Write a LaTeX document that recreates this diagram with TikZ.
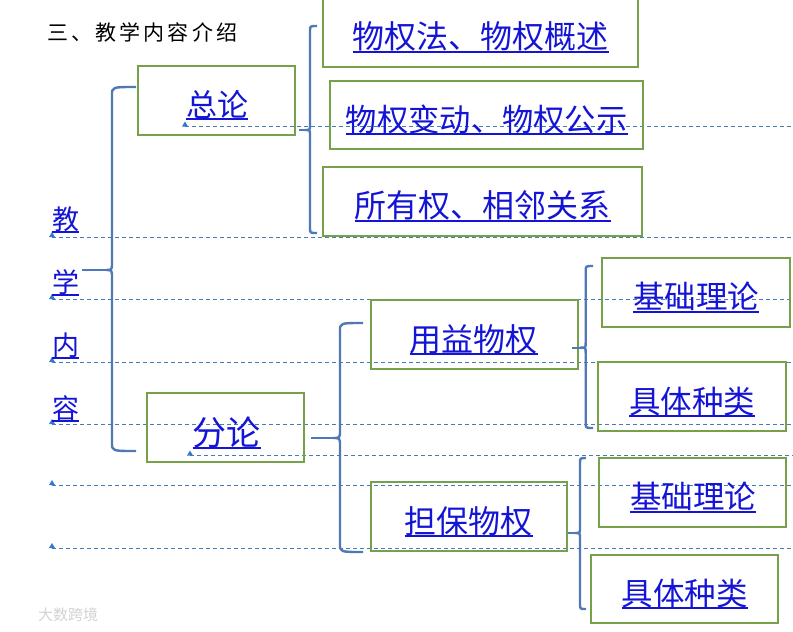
\documentclass[tikz,border=0pt]{standalone}
\usepackage{fontspec}
\newfontfamily\cjk{Noto Sans CJK SC}
\definecolor{boxgreen}{RGB}{119,160,74}
\definecolor{braceblue}{RGB}{79,120,180}
\definecolor{linkblue}{RGB}{20,20,215}
\definecolor{dashblue}{RGB}{70,125,180}
\definecolor{triblue}{RGB}{50,120,205}
\tikzset{
  box/.style={draw=boxgreen, line width=2pt, inner sep=0pt},
  lt/.style={text=linkblue, inner sep=0pt, outer sep=0pt},
  ul/.style={draw=linkblue, line width=1.8pt},
  br/.style={draw=braceblue, line width=2.4pt, line join=round},
  dl/.style={draw=dashblue, line width=0.8pt, dash pattern=on 4pt off 3pt},
  tri/.style={fill=triblue}
}
% name, x1, y1, x2, y2
\newcommand\mybox[5]{\node[box, minimum width={#4-#2}, minimum height={#5-#3}] (#1) at ({(#2+#4)/2},{(#3+#5)/2}) {};}
% name, cx, underline y, size, text
\newcommand\ltext[5]{%
  \node[lt, font=\cjk\fontsize{#4}{#4}\selectfont, anchor=base] (#1) at (#2,{#3-0.09*#4}) {#5};
  \coordinate (#1u) at (0,#3);
  \draw[ul] (#1.west |- #1u) -- (#1.east |- #1u);}
% name of tip, x, top, bottom, hook x, tip x, tip y, r
\newcommand\mybrace[8]{%
  \coordinate (#1) at (#6,#7);
  \draw[br] (#5,#3) .. controls (#2,#3) .. (#2,{#3+#8}) -- (#2,{#7-#8})
    .. controls (#2,#7) .. (#1) .. controls (#2,#7) .. (#2,{#7+#8})
    -- (#2,{#4-#8}) .. controls (#2,#4) .. (#5,#4);}
% dashed baseline mark: x start, y
\newcommand\dline[2]{%
  \draw[dl] (#1,#2) -- (793,#2);
  \fill[tri] ({#1-3},#2) -- ({#1+3},#2) -- (#1,{#2-5}) -- cycle;}
\begin{document}
\begin{tikzpicture}[x=1pt,y=-1pt]
\useasboundingbox (0,0) rectangle (793,632);

% title
\node[font=\cjk\fontsize{21}{21}\selectfont\addfontfeatures{LetterSpace=15}, inner sep=0pt, anchor=west] (title) at (47,32) {三、教学内容介绍};

% dashed baseline marks
\dline{185}{126.5}
\dline{52}{237}
\dline{52}{299}
\dline{52}{362}
\dline{52}{424}
\dline{190}{455.5}
\dline{52}{485}
\dline{52}{548}

% boxes
\mybox{b1}{322.7}{-3}{637.7}{66.7}
\mybox{b2}{330}{81}{642.7}{149}
\mybox{b3}{322.7}{167}{641.7}{236}
\mybox{zl}{137.7}{65.7}{295.3}{135}
\mybox{fl}{146.7}{392.7}{304.3}{461.7}
\mybox{yy}{370.7}{300}{578.3}{369}
\mybox{db}{370.7}{481.7}{566.7}{550.7}
\mybox{r1}{601.7}{258.3}{790}{327.3}
\mybox{r2}{597.7}{362.3}{786}{431}
\mybox{r3}{599}{458.3}{786}{526.7}
\mybox{r4}{590.7}{555}{778.3}{623.3}

% texts
\ltext{t1}{480.5}{51.7}{32}{物权法、物权概述}
\ltext{t2}{486.7}{134}{31.3}{物权变动、物权公示}
\ltext{t3}{482.5}{220.7}{32}{所有权、相邻关系}
\ltext{tzl}{217}{119}{31}{总论}
\ltext{tfl}{226.7}{448.3}{34}{分论}
\ltext{tyy}{473.8}{354}{32}{用益物权}
\ltext{tdb}{468.7}{536}{32}{担保物权}
\ltext{tr1}{696}{311.7}{31.5}{基础理论}
\ltext{tr2}{692.3}{416}{31.5}{具体种类}
\ltext{tr3}{693}{511.7}{31.5}{基础理论}
\ltext{tr4}{684.7}{608}{31.5}{具体种类}
\ltext{c1}{65.5}{232}{27}{教}
\ltext{c2}{65.5}{295}{27}{学}
\ltext{c3}{65.5}{358}{27}{内}
\ltext{c4}{65.5}{420.7}{27}{容}

% braces
\mybrace{tipA}{112}{87}{451}{136}{106}{270}{8}
\mybrace{tipB}{310}{26}{233}{317}{305}{130}{5}
\mybrace{tipC}{340}{323}{552}{363}{333}{438}{8}
\mybrace{tipD}{585.7}{266}{428}{593}{580.5}{347.7}{5}
\mybrace{tipE}{580}{458}{609}{586}{575}{533}{5}

% connectors (stubs)
\coordinate (sA) at (82,270);
\draw[br] (sA) -- (tipA);
\draw[br] ([xshift=2.5pt]zl.east |- tipB) -- (tipB);
\draw[br] ([xshift=6pt]fl.east |- tipC) -- (tipC);
\draw[br] ([xshift=-7pt]yy.east |- tipD) -- (tipD);
\draw[br] (db.east |- tipE) -- (tipE);

% watermark
\node[font=\cjk\fontsize{15}{15}\selectfont, text=gray!35, inner sep=0pt, anchor=west] (wm) at (38,615) {大数跨境};
\end{tikzpicture}
\end{document}
